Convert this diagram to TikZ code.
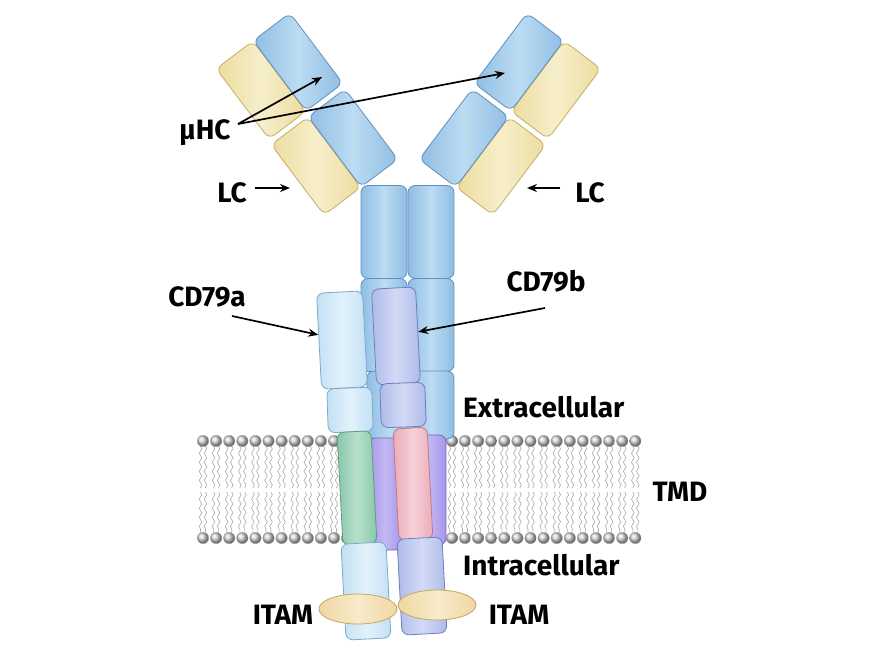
\documentclass[tikz,border=0pt]{standalone}
\usepackage{fontspec}
\setmainfont{Fira Sans}
\usetikzlibrary{arrows.meta,decorations.pathmorphing,shapes.geometric}
\definecolor{hcB}{HTML}{8FBDE3}\definecolor{hcM}{HTML}{BCDCF2}\definecolor{hcD}{HTML}{5E8FC0}
\definecolor{lcB}{HTML}{EBDC9E}\definecolor{lcM}{HTML}{F7EFCB}\definecolor{lcD}{HTML}{C4AE62}
\definecolor{aB}{HTML}{C2E0F4}\definecolor{aM}{HTML}{E2F2FB}\definecolor{aD}{HTML}{7FA8CA}
\definecolor{bB}{HTML}{AEBBE8}\definecolor{bM}{HTML}{D2DAF5}\definecolor{bD}{HTML}{6E7FC0}
\definecolor{gB}{HTML}{88C7AA}\definecolor{gM}{HTML}{B8E0CC}\definecolor{gD}{HTML}{5E9C80}
\definecolor{pB}{HTML}{ECACB9}\definecolor{pM}{HTML}{F6D0D8}\definecolor{pD}{HTML}{C07888}
\definecolor{uB}{HTML}{A696EA}\definecolor{uM}{HTML}{C4B8F4}\definecolor{uD}{HTML}{7563CC}
\definecolor{iB}{HTML}{EFD8A2}\definecolor{iM}{HTML}{F7EACB}\definecolor{iD}{HTML}{C9A460}
\definecolor{memb}{HTML}{C8C8C8}
\tikzset{
 seg/.style args={#1/#2/#3}{draw=#3, line width=0.8pt, rounded corners=7pt, left color=#1, right color=#1, middle color=#2, inner sep=0pt},
 lbl/.style={font=\fontsize{28}{32}\selectfont\bfseries, text=black, inner sep=0pt},
 arr/.style={-{Stealth[length=10pt,width=8pt]}, line width=1.7pt},
 head/.style={circle, draw=memb!85!black, line width=0.3pt, minimum size=11.5pt, inner sep=0pt, ball color=memb!75!white},
 tail/.style={draw=memb!85!black, line width=0.6pt, decorate, decoration={snake, amplitude=1.3pt, segment length=9pt}}
}
\begin{document}
\begin{tikzpicture}[x=1pt,y=-1pt]
\useasboundingbox (0,0) rectangle (875,656);
\fill[white] (0,0) rectangle (875,656);
% membrane
\foreach \i in {0,...,33}{
  \pgfmathsetmacro{\xx}{203+13.1*\i}
  \draw[tail] (\xx-2.5,446) -- (\xx-2.5,488);
  \draw[tail] (\xx+2.5,446) -- (\xx+2.5,488);
  \draw[tail] (\xx-2.5,492) -- (\xx-2.5,532);
  \draw[tail] (\xx+2.5,492) -- (\xx+2.5,532);
  \node[head] (ht\i) at (\xx,441) {};
  \node[head] (hb\i) at (\xx,538) {};
}
% left arm
\node[seg=lcB/lcM/lcD, minimum width=88pt, minimum height=46pt, rotate=-53] (lc1l) at (261,90) {};
\node[seg=lcB/lcM/lcD, minimum width=88pt, minimum height=46pt, rotate=-53] (lc2l) at (316,166) {};
\node[seg=hcB/hcM/hcD, minimum width=88pt, minimum height=46pt, rotate=-53] (hc1l) at (298,62) {};
\node[seg=hcB/hcM/hcD, minimum width=88pt, minimum height=46pt, rotate=-53] (hc2l) at (353,138) {};
% right arm
\node[seg=lcB/lcM/lcD, minimum width=88pt, minimum height=46pt, rotate=53] (lc1r) at (556,90) {};
\node[seg=lcB/lcM/lcD, minimum width=88pt, minimum height=46pt, rotate=53] (lc2r) at (501,166) {};
\node[seg=hcB/hcM/hcD, minimum width=88pt, minimum height=46pt, rotate=53] (hc1r) at (519,62) {};
\node[seg=hcB/hcM/hcD, minimum width=88pt, minimum height=46pt, rotate=53] (hc2r) at (464,138) {};
% stem
\foreach \c/\x in {l/384,r/431}{
 \node[seg=hcB/hcM/hcD, minimum width=46pt, minimum height=93pt] (s1\c) at (\x,232) {};
 \node[seg=hcB/hcM/hcD, minimum width=46pt, minimum height=93pt] (s2\c) at (\x,325) {};
}
\node[seg=hcB/hcM/hcD, minimum width=46pt, minimum height=68pt] (s3r) at (431,405) {};
\node[seg=hcB/hcM/hcD, minimum width=46pt, minimum height=68pt] (s3l) at (390,405) {};
% purple TM
\node[seg=uB/uM/uD, minimum width=34pt, minimum height=112pt] (pu1) at (385,494) {};
\node[seg=uB/uM/uD, minimum width=36pt, minimum height=110pt] (pu2) at (428,490) {};
% CD79a
\node[seg=aB/aM/aD, minimum width=46pt, minimum height=96pt, rotate=3] (a1) at (342,340) {};
\node[seg=aB/aM/aD, minimum width=45pt, minimum height=44pt, rotate=2] (a2) at (350,410) {};
\node[seg=gB/gM/gD, minimum width=34pt, minimum height=113pt, rotate=3] (a3) at (357,488) {};
\node[seg=aB/aM/aD, minimum width=45pt, minimum height=96pt, rotate=3] (a4) at (366,591) {};
% CD79b
\node[seg=bB/bM/bD, minimum width=44pt, minimum height=96pt, rotate=3] (b1) at (396,336) {};
\node[seg=bB/bM/bD, minimum width=45pt, minimum height=44pt, rotate=2] (b2) at (403,405) {};
\node[seg=pB/pM/pD, minimum width=34pt, minimum height=112pt, rotate=3] (b3) at (413,484) {};
\node[seg=bB/bM/bD, minimum width=45pt, minimum height=96pt, rotate=3] (b4) at (422,586) {};
% ITAM
\node[ellipse, draw=iD, line width=0.8pt, left color=iB, right color=iB, middle color=iM, minimum width=78pt, minimum height=30pt] (it1) at (358,609) {};
\node[ellipse, draw=iD, line width=0.8pt, left color=iB, right color=iB, middle color=iM, minimum width=78pt, minimum height=30pt] (it2) at (437,605) {};
% labels
\node[lbl] (mu) at (205,133) {µHC};
\node[lbl] (lcl) at (232,193) {LC};
\node[lbl] (lcr) at (590,193) {LC};
\node[lbl] (cda) at (207,297) {CD79a};
\node[lbl] (cdb) at (546,281) {CD79b};
\node[lbl, anchor=west] (ext) at (463,407) {Extracellular};
\node[lbl] (tmd) at (680,492) {TMD};
\node[lbl, anchor=west] (intr) at (463,565) {Intracellular};
\node[lbl] (itl) at (283,615) {ITAM};
\node[lbl] (itr) at (519,615) {ITAM};
% arrows
\coordinate (m0) at (238,124);
\coordinate (m1) at (322,77);
\coordinate (m2) at (505,73);
\draw[arr] (m0) -- (m1);
\draw[arr] (m0) -- (m2);
\coordinate (la) at (255,188); \coordinate (lb) at (290,188);
\coordinate (ra) at (560,188); \coordinate (rb) at (527,188);
\draw[arr] (la) -- (lb);
\draw[arr] (ra) -- (rb);
\coordinate (ca) at (232,316); \coordinate (cb) at (545,308);
\draw[arr] (ca) -- (a1);
\draw[arr] (cb) -- (b1);
\end{tikzpicture}
\end{document}
